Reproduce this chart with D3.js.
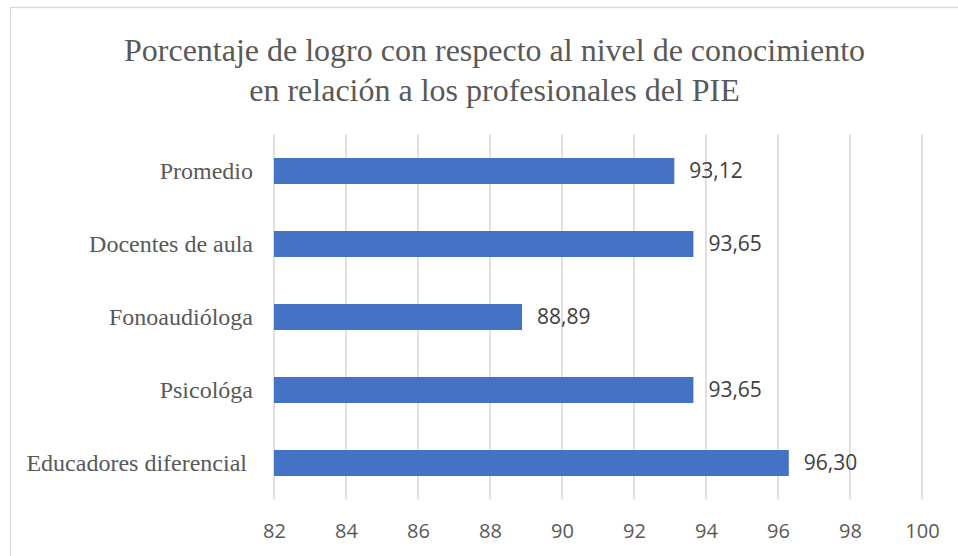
<!DOCTYPE html>
<html>
<head>
<meta charset="utf-8">
<script src="https://cdn.jsdelivr.net/npm/d3@7/dist/d3.min.js"></script>
<style>
  html, body { margin: 0; padding: 0; background: #fff; }
  svg { display: block; }
</style>
</head>
<body>
<svg id="chart" width="958" height="556"></svg>
<script>
// datos
const categorias = ["Promedio", "Docentes de aula", "Fonoaudióloga", "Psicológa", "Educadores diferencial "];
const valores = [93.12, 93.65, 88.89, 93.65, 96.30];
const ticks = [82, 84, 86, 88, 90, 92, 94, 96, 98, 100];
const titulo = ["Porcentaje de logro con respecto al nivel de conocimiento", "en relación a los profesionales del PIE"];

const width = 958;
const height = 556;
const margin = { top: 134.5, right: 36, bottom: 56.5, left: 274 };

const svg = d3.select('#chart');

// marco
svg.append('rect')
  .attr('x', 10.5).attr('y', 7.5)
  .attr('width', 970).attr('height', 570)
  .attr('fill', '#fff')
  .attr('stroke', '#d9d9d9')
  .attr('stroke-width', 1.3);

// titulo
svg.append('g')
  .selectAll('text')
  .data(titulo)
  .join('text')
  .attr('x', 494.5)
  .attr('y', (d, i) => 61 + i * 40)
  .attr('text-anchor', 'middle')
  .attr('font-family', '"Liberation Serif", "Times New Roman", serif')
  .attr('font-size', 32)
  .attr('fill', '#595959')
  .text(d => d);

const x = d3.scaleLinear()
  .domain([82, 100])
  .range([margin.left, margin.left + 648]);

const y = d3.scaleBand()
  .domain(categorias)
  .range([margin.top, height - margin.bottom])
  .paddingInner(0.644)
  .paddingOuter(0.322);

// grid
svg.append('g')
  .selectAll('line')
  .data(ticks)
  .join('line')
  .attr('x1', d => x(d)).attr('x2', d => x(d))
  .attr('y1', margin.top).attr('y2', height - margin.bottom)
  .attr('stroke', '#d9d9d9')
  .attr('stroke-width', 1.6);

// eje x
const xAxis = svg.append('g')
  .attr('transform', `translate(0, ${height - margin.bottom})`)
  .call(d3.axisBottom(x).tickValues(ticks).tickSize(0).tickPadding(24));
xAxis.select('.domain').remove();
xAxis.selectAll('text')
  .attr('font-family', '"Open Sans", sans-serif')
  .attr('font-size', 20)
  .attr('fill', '#595959');

// eje y
const yAxis = svg.append('g')
  .attr('transform', `translate(${margin.left}, 0)`)
  .call(d3.axisLeft(y).tickSize(0).tickPadding(21));
yAxis.select('.domain').remove();
yAxis.selectAll('text')
  .attr('font-family', '"Liberation Serif", "Times New Roman", serif')
  .attr('font-size', 24)
  .attr('fill', '#595959')
  .style('white-space', 'pre');

// barras
svg.append('g')
  .selectAll('rect')
  .data(valores)
  .join('rect')
  .attr('x', x(82))
  .attr('y', (d, i) => y(categorias[i]))
  .attr('width', d => x(d) - x(82))
  .attr('height', y.bandwidth())
  .attr('fill', '#4472c4');

// etiquetas
svg.append('g')
  .selectAll('text')
  .data(valores)
  .join('text')
  .attr('x', d => x(d) + 15)
  .attr('y', (d, i) => y(categorias[i]) + y.bandwidth() / 2)
  .attr('dy', '0.35em')
  .attr('font-family', '"Open Sans", sans-serif')
  .attr('font-size', 21)
  .attr('fill', '#404040')
  .text(d => d.toFixed(2).replace('.', ','));
</script>
</body>
</html>
